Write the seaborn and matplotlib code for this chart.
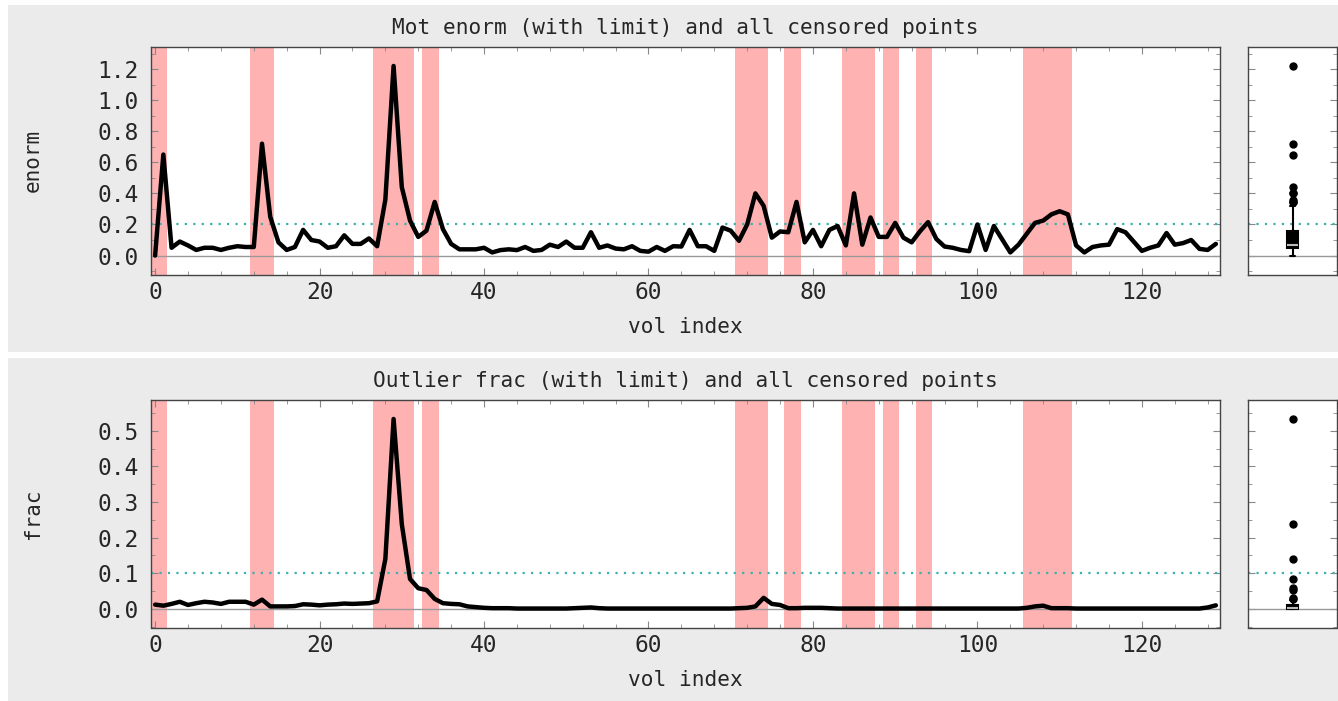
import numpy as np
import matplotlib
matplotlib.use("Agg")
import matplotlib.pyplot as plt
from matplotlib.patches import Rectangle
from matplotlib.ticker import MultipleLocator
import seaborn as sns

# motion enorm per volume
enorm = [0.0, 0.65, 0.05, 0.09, 0.065, 0.036, 0.05, 0.05, 0.036, 0.05,
         0.06, 0.055, 0.055, 0.72, 0.25, 0.085, 0.036, 0.055, 0.165, 0.10,
         0.09, 0.05, 0.06, 0.13, 0.075, 0.075, 0.11, 0.06, 0.36, 1.22,
         0.44, 0.225, 0.12, 0.16, 0.345, 0.17, 0.075, 0.04, 0.04, 0.04,
         0.05, 0.02, 0.035, 0.04, 0.035, 0.055, 0.03, 0.036, 0.07, 0.055,
         0.09, 0.05, 0.05, 0.15, 0.05, 0.065, 0.045, 0.04, 0.06, 0.03,
         0.025, 0.055, 0.03, 0.06, 0.058, 0.165, 0.06, 0.06, 0.03, 0.18,
         0.16, 0.095, 0.2, 0.40, 0.32, 0.115, 0.155, 0.15, 0.345, 0.085,
         0.165, 0.06, 0.165, 0.19, 0.065, 0.40, 0.07, 0.245, 0.12, 0.12,
         0.21, 0.115, 0.085, 0.155, 0.215, 0.107, 0.058, 0.05, 0.036, 0.028,
         0.2, 0.036, 0.19, 0.105, 0.02, 0.07, 0.14, 0.21, 0.225, 0.265,
         0.285, 0.265, 0.065, 0.02, 0.055, 0.065, 0.07, 0.17, 0.15, 0.09,
         0.03, 0.05, 0.065, 0.145, 0.07, 0.08, 0.1, 0.043, 0.036, 0.075]

# outlier fraction per volume
frac = [0.012, 0.009, 0.014, 0.02, 0.011, 0.016, 0.02, 0.018, 0.014, 0.02,
        0.02, 0.02, 0.012, 0.026, 0.007, 0.007, 0.007, 0.008, 0.013, 0.012,
        0.01, 0.012, 0.013, 0.015, 0.014, 0.015, 0.016, 0.021, 0.14, 0.533,
        0.238, 0.084, 0.058, 0.053, 0.028, 0.016, 0.014, 0.013, 0.007, 0.005,
        0.003, 0.002, 0.002, 0.002, 0.001, 0.001, 0.001, 0.001, 0.001, 0.001,
        0.001, 0.002, 0.003, 0.004, 0.002, 0.001, 0.001, 0.001, 0.001, 0.001,
        0.001, 0.001, 0.001, 0.001, 0.001, 0.001, 0.001, 0.001, 0.001, 0.001,
        0.001, 0.002, 0.003, 0.007, 0.031, 0.014, 0.011, 0.002, 0.002, 0.003,
        0.003, 0.003, 0.002, 0.001, 0.001, 0.001, 0.001, 0.001, 0.001, 0.001,
        0.001, 0.001, 0.001, 0.001, 0.001, 0.001, 0.001, 0.001, 0.001, 0.001,
        0.001, 0.001, 0.001, 0.001, 0.001, 0.001, 0.003, 0.007, 0.009, 0.002,
        0.002, 0.002, 0.001, 0.001, 0.001, 0.001, 0.001, 0.001, 0.001, 0.001,
        0.001, 0.001, 0.001, 0.001, 0.001, 0.001, 0.001, 0.001, 0.004, 0.01]

censored = [0, 1, 12, 13, 14, 27, 28, 29, 30, 31, 33, 34, 71, 72, 73, 74,
            77, 78, 84, 85, 86, 87, 89, 90, 93, 94, 106, 107, 108, 109, 110, 111]

enorm_limit = 0.2
frac_limit = 0.1

sns.set_style("ticks")
plt.rcParams["font.family"] = ["DejaVu Sans Mono", "DejaVu Sans"]

W, H = 1338, 701
limit_col = "#3cb0b0"
vol = np.arange(len(enorm))

fig = plt.figure(figsize=(W / 100, H / 100), dpi=100)
fig.patch.set_facecolor("white")

# grey backgrounds behind each panel
for y0, y1 in [(5, 352), (358, 701)]:
    fig.add_artist(Rectangle((8 / W, 1 - y1 / H), 1 - 8 / W, (y1 - y0) / H,
                             transform=fig.transFigure, facecolor="#ebebeb",
                             edgecolor="none", zorder=-10))

# contiguous runs of censored volumes
runs = []
for c in censored:
    if runs and c == runs[-1][1] + 1:
        runs[-1][1] = c
    else:
        runs.append([c, c])

panels = [
    ("enorm", enorm, enorm_limit, "Mot enorm (with limit) and all censored points", 0.2, 0.1, 47),
    ("frac", frac, frac_limit, "Outlier frac (with limit) and all censored points", 0.1, 0.05, 400),
]

for ylab, vals, lim, title, major, minor, top in panels:
    h = 227.5
    ax = fig.add_axes([151 / W, 1 - (top + h) / H, 1069 / W, h / H])
    axb = fig.add_axes([1248 / W, 1 - (top + h) / H, 89 / W, h / H])

    lo, hi = min(vals), max(vals)
    r = hi - lo
    ylims = (lo - 0.1 * r, hi + 0.1 * r)

    for a, b in runs:
        ax.axvspan(a - 0.5, b + 0.5, color="red", alpha=0.3, lw=0, zorder=0)
    ax.axhline(0, color="#999999", lw=1, zorder=1)
    ax.axhline(lim, color=limit_col, ls=(0, (1, 2.8)), lw=1.6, zorder=1)
    sns.lineplot(x=vol, y=vals, ax=ax, color="k", lw=3.2, zorder=3)

    ax.set_xlim(-0.5, len(vals) - 0.5)
    ax.set_ylim(*ylims)
    ax.xaxis.set_major_locator(MultipleLocator(20))
    ax.xaxis.set_minor_locator(MultipleLocator(4))
    ax.yaxis.set_major_locator(MultipleLocator(major))
    ax.yaxis.set_minor_locator(MultipleLocator(minor))
    ax.tick_params(which="both", direction="in", top=True, right=True, color="#888888")
    ax.tick_params(which="major", length=5, labelsize=16.5)
    ax.tick_params(which="minor", length=3)
    ax.tick_params(axis="x", pad=5)
    ax.tick_params(axis="y", pad=9)
    ax.yaxis.set_major_formatter(matplotlib.ticker.FormatStrFormatter("%.1f"))

    ax.set_title(title, fontsize=15.2, pad=9)
    ax.set_xlabel("vol index", fontsize=15.2)
    ax.set_ylabel(ylab, fontsize=15)
    ax.xaxis.label.set_va("center")
    ax.xaxis.set_label_coords(0.5, -(326 - 274) / h)
    ax.yaxis.label.set_va("center")
    ax.yaxis.set_label_coords((33 - 151) / 1069, 0.5)

    # boxplot of the same values
    axb.axhline(0, color="#999999", lw=1, zorder=1)
    axb.axhline(lim, color=limit_col, ls=(0, (1, 2.8)), lw=1.6, zorder=1)
    sns.boxplot(y=vals, ax=axb, width=0.13, color="k", linecolor="k",
                linewidth=1.5, fliersize=5,
                flierprops=dict(marker="o", markerfacecolor="k", markeredgecolor="k"),
                medianprops=dict(color="#bbbbbb", linewidth=1.5))
    axb.set_xlim(-0.5, 0.5)
    axb.set_ylim(*ylims)
    axb.set_xticks([])
    axb.yaxis.set_major_locator(MultipleLocator(major))
    axb.yaxis.set_minor_locator(MultipleLocator(minor))
    axb.tick_params(which="both", direction="in", left=True, right=True,
                    labelleft=False, color="#888888")
    axb.tick_params(which="major", length=5)
    axb.tick_params(which="minor", length=3)
    axb.set_ylabel("")

    for a in (ax, axb):
        a.set_facecolor("white")
        for s in a.spines.values():
            s.set_visible(True)
            s.set_color("#444444")
            s.set_linewidth(1)

fig.savefig("out.png", dpi=100)
